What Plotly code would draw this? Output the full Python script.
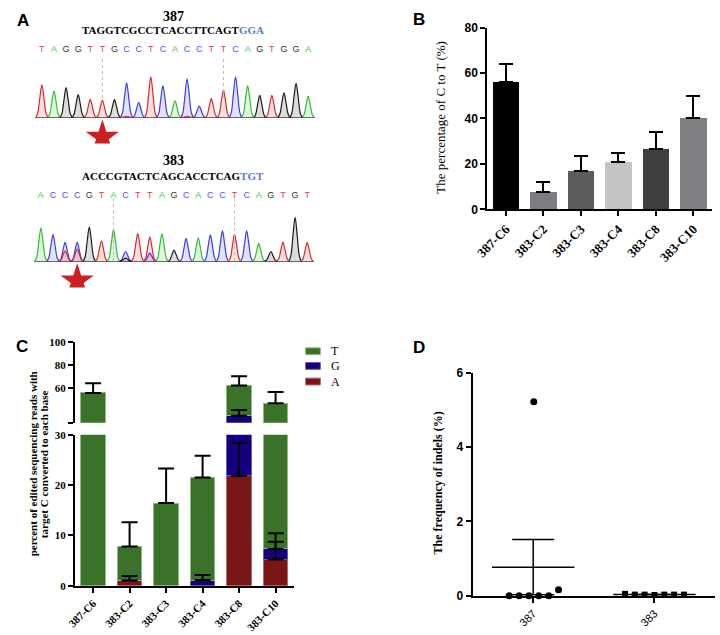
import numpy as np
import plotly.graph_objects as go

W, H = 720, 635
def fx(px): return px / W
def fy(py): return 1 - py / H

SERIF = "Liberation Serif"
SANS = "Liberation Sans"

# ---------------- Panel A data (Sanger chromatograms) ----------------
REF_387 = "TAGGTCGCCTCACCTTCAGT"
PAM_387 = "GGA"
CALLS_387 = "TAGGTTGCCTCACCTTCAGTGGA"
PEAKS_387 = [100, 82, 92, 70, 56, 53, 55, 106, 46, 125, 97, 51, 119, 35, 58, 85, 125, 98, 68, 68, 76, 105, 65]
MINOR_POS_387 = [7, 12]
MINOR_BASE_387 = ["T", "T"]
MINOR_H_387 = [4, 4]
MARK_387 = [5, 15]
STAR_387 = 5

REF_383 = "ACCCGTACTCAGCACCTCAG"
PAM_383 = "TGT"
CALLS_383 = "ACCCGTACTTAGCACCTCAGTGT"
PEAKS_383 = [102, 82, 58, 58, 105, 62, 98, 30, 85, 74, 84, 34, 70, 72, 81, 93, 83, 93, 54, 30, 59, 135, 57]
MINOR_POS_383 = [2, 3, 7, 9]
MINOR_BASE_383 = ["T", "T", "G", "C"]
MINOR_H_383 = [32, 38, 10, 25]
MARK_383 = [6, 16]
STAR_383 = 3

# ---------------- Panel B data ----------------
B_CATS = ["387-C6", "383-C2", "383-C3", "383-C4", "383-C8", "383-C10"]
B_VALS = [56.2, 7.5, 16.9, 20.8, 26.5, 40.4]
B_ERR = [7.6, 4.4, 6.6, 4.0, 7.6, 9.4]

# ---------------- Panel C data ----------------
C_CATS = B_CATS
C_A = [0, 1.0, 0, 0, 21.8, 5.2]
C_G = [0, 0, 0, 1.1, 14.2, 2.1]
C_T = [55.8, 6.8, 16.4, 20.4, 26.3, 39.5]
C_A_ERR = [0, 0.9, 0, 0, 6.6, 5.2]
C_G_ERR = [0, 0, 0, 1.0, 5.0, 1.4]
C_T_ERR = [8.4, 4.8, 6.9, 4.3, 8.1, 9.8]

# ---------------- Panel D data ----------------
D_CATS = ["387", "383"]
D_387 = [0, 0, 0, 5.22, 0, 0, 0.16]
D_383 = [0.05, 0.03, 0.03, 0.02, 0.03, 0.03, 0.03]

# ---------------- styles ----------------
BASE_LINE = {"A": "#2fbf2f", "C": "#3b3be8", "G": "#1a1a1a", "T": "#d62b2b"}
BASE_FILL = {"A": "rgba(47,191,47,0.15)", "C": "rgba(59,59,232,0.15)",
             "G": "rgba(26,26,26,0.15)", "T": "rgba(214,43,43,0.15)"}
BASE_TEXT = {"A": "#4cc04c", "C": "#5050ee", "G": "#333333", "T": "#e0404f"}
PEAK_OFFS = [-0.5, -0.34, -0.17, 0, 0.17, 0.34, 0.5]
PEAK_PROF = [0, 0.14, 0.6, 1, 0.6, 0.14, 0]
B_COLORS = ["#000000", "#7c7c81", "#5c5c5e", "#c4c4c4", "#3e3e3e", "#7f7f84"]
C_COLORS = {"A": "#7a1616", "G": "#160080", "T": "#3b7229"}
C_EDGE = {"A": "#b06a6a", "G": "#6a60b0", "T": "#8dbb7d"}
D_OFF_387 = [-0.198, -0.116, -0.035, 0.005, 0.046, 0.128, 0.209]
D_OFF_383 = [-0.243, -0.162, -0.081, 0.0, 0.081, 0.162, 0.243]

fig = go.Figure()

def chromatogram(xa, ya, calls, peaks, mpos, mbase, mh, letter_y, star_x, star_y):
    segs = {b: ([], []) for b in "ACGT"}
    allp = [(i, calls[i], peaks[i]) for i in range(len(calls))]
    allp += [(mpos[k], mbase[k], mh[k]) for k in range(len(mpos))]
    for pos, base, h in allp:
        xs, ys = segs[base]
        xs.extend([pos + o for o in PEAK_OFFS] + [None])
        ys.extend([h * p for p in PEAK_PROF] + [None])
    for b in "ACGT":
        xs, ys = segs[b]
        if not xs:
            continue
        fig.add_trace(go.Scatter(x=xs, y=ys, mode="lines", line=dict(color=BASE_LINE[b], width=1.2, shape="spline"),
                                 fill="toself", fillcolor=BASE_FILL[b], xaxis=xa, yaxis=ya,
                                 hoverinfo="skip", showlegend=False))
    fig.add_trace(go.Scatter(x=list(range(len(calls))), y=[letter_y] * len(calls), mode="text",
                             text=list(calls), textfont=dict(family=SANS, size=9,
                                                             color=[BASE_TEXT[c] for c in calls]),
                             xaxis=xa, yaxis=ya, showlegend=False, hoverinfo="skip"))
    fig.add_trace(go.Scatter(x=[star_x], y=[star_y], mode="markers",
                             marker=dict(symbol="star", size=25, color="#cc1f1f", line=dict(width=0)),
                             xaxis=xa, yaxis=ya, showlegend=False, hoverinfo="skip"))

chromatogram("x", "y", CALLS_387, PEAKS_387, MINOR_POS_387, MINOR_BASE_387, MINOR_H_387, 207, STAR_387, -60)
chromatogram("x2", "y2", CALLS_383, PEAKS_383, MINOR_POS_383, MINOR_BASE_383, MINOR_H_383, 200, STAR_383, -60)

shapes = []
for m in MARK_387:
    shapes.append(dict(type="line", xref="x", yref="y", x0=m, x1=m, y0=60, y1=189,
                       line=dict(color="#bbbbbb", width=1, dash="dot")))
for m in MARK_383:
    shapes.append(dict(type="line", xref="x2", yref="y2", x0=m, x1=m, y0=0, y1=192,
                       line=dict(color="#bbbbbb", width=1, dash="dot")))

# ---------------- Panel B ----------------
fig.add_trace(go.Bar(x=B_CATS, y=B_VALS, width=0.7, marker=dict(color=B_COLORS, line=dict(width=0)),
                     error_y=dict(type="data", array=B_ERR, arrayminus=[0] * len(B_ERR), symmetric=False,
                                  color="black", thickness=2, width=7),
                     xaxis="x3", yaxis="y3", showlegend=False))

# ---------------- Panel C ----------------
def nz(v):
    return [x if x != 0 else None for x in v]

stack = (("A", C_A, C_A_ERR), ("G", C_G, C_G_ERR), ("T", C_T, C_T_ERR))
for ya, xa in (("y4", "x4"), ("y5", "x5")):
    for b, vals, errs in stack:
        fig.add_trace(go.Bar(x=C_CATS, y=nz(vals), width=0.67, name=b,
                             marker=dict(color=C_COLORS[b], line=dict(color=C_EDGE[b], width=1)),
                             xaxis=xa, yaxis=ya, showlegend=False))
    cum = np.zeros(len(C_CATS))
    for b, vals, errs in stack:
        cum = cum + np.array(vals)
        tops = [float(t) if v != 0 else None for t, v in zip(cum, vals)]
        fig.add_trace(go.Scatter(x=C_CATS, y=tops, mode="markers", marker=dict(size=1, color="rgba(0,0,0,0)"),
                                 error_y=dict(type="data", array=nz(errs), arrayminus=[0] * 6, symmetric=False,
                                              color="black", thickness=2, width=8),
                                 xaxis=xa, yaxis=ya, showlegend=False, hoverinfo="skip"))

# ---------------- Panel D ----------------
for ci, (vals, offs, sym, sz) in enumerate(((D_387, D_OFF_387, "circle", 7), (D_383, D_OFF_383, "square", 6))):
    fig.add_trace(go.Scatter(x=[ci + o for o in offs], y=vals, mode="markers",
                             marker=dict(symbol=sym, size=sz, color="black"),
                             xaxis="x6", yaxis="y6", cliponaxis=False, showlegend=False))
    arr = np.array(vals)
    mean = float(arr.mean())
    sem = float(arr.std(ddof=1) / np.sqrt(len(arr)))
    fig.add_trace(go.Scatter(x=[ci - 0.34, ci + 0.34], y=[mean, mean], mode="lines",
                             line=dict(color="black", width=1.5), xaxis="x6", yaxis="y6",
                             cliponaxis=False, showlegend=False))
    fig.add_trace(go.Scatter(x=[ci], y=[mean], mode="markers", marker=dict(size=1, color="rgba(0,0,0,0)"),
                             error_y=dict(type="data", array=[sem], symmetric=True, color="black",
                                          thickness=1.5, width=21),
                             xaxis="x6", yaxis="y6", cliponaxis=False, showlegend=False))

# ---------------- axes ----------------
chrom_x = dict(showgrid=False, zeroline=False, showline=False, ticks="", showticklabels=False,
               range=[-0.6, 22.6])
chrom_y = dict(showgrid=False, zeroline=True, zerolinecolor="#666666", zerolinewidth=1, showline=False,
               ticks="", showticklabels=False, range=[-80, 231])
fig.update_layout(
    xaxis=dict(domain=[fx(22), fx(308)], anchor="y", **chrom_x),
    yaxis=dict(domain=[fy(139.7), fy(36)], anchor="x", **chrom_y),
    xaxis2=dict(domain=[fx(21), fx(307)], anchor="y2", **chrom_x),
    yaxis2=dict(domain=[fy(286.7), fy(183)], anchor="x2", **chrom_y),
)

axline = dict(showline=True, linecolor="black", linewidth=2, showgrid=False, zeroline=False,
              ticks="outside", tickwidth=2, tickcolor="black", ticklen=5)
fig.update_layout(
    xaxis3=dict(domain=[fx(483), fx(712)], anchor="y3", range=[-0.5, 5.5], tickangle=-45,
                tickfont=dict(family=SERIF, size=13, color="black", weight="bold"), **axline),
    yaxis3=dict(domain=[fy(207), fy(21)], anchor="x3", range=[0, 80], tickvals=[0, 20, 40, 60, 80],
                tickfont=dict(family=SANS, size=12, color="black", weight="bold"), **axline),
    xaxis4=dict(domain=[fx(63), fx(286)], anchor="y4", range=[-0.5, 5.5], tickangle=-45,
                tickfont=dict(family=SERIF, size=11, color="black", weight="bold"), **axline),
    yaxis4=dict(domain=[fy(591.7), fy(437.3)], anchor="x4", range=[0, 30], tickvals=[0, 10, 20, 30],
                tickfont=dict(family=SERIF, size=11, color="black", weight="bold"), **axline),
    xaxis5=dict(domain=[fx(63), fx(286)], anchor="y5", range=[-0.5, 5.5], visible=False, showgrid=False),
    yaxis5=dict(domain=[fy(425), fy(342.7)], anchor="x5", range=[30, 100], tickvals=[30, 60, 80, 100],
                ticktext=["", "60", "80", "100"],
                tickfont=dict(family=SERIF, size=11, color="black", weight="bold"), **axline),
    xaxis6=dict(domain=[fx(468), fx(715)], anchor="y6", range=[-0.5, 1.5], tickvals=[0, 1], ticktext=D_CATS,
                tickangle=-45, tickfont=dict(family=SANS, size=11, color="black"), **axline),
    yaxis6=dict(domain=[fy(602), fy(374)], anchor="x6", range=[0, 6], tickvals=[0, 2, 4, 6],
                tickfont=dict(family=SANS, size=12, color="black", weight="bold"), **axline),
)

# ---------------- legend for C ----------------
LEG_Y = [352, 367, 383]
for b, yy in zip(["T", "G", "A"], LEG_Y):
    shapes.append(dict(type="rect", xref="paper", yref="paper", x0=fx(298), x1=fx(313),
                       y0=fy(yy + 3.5), y1=fy(yy - 3.5), fillcolor=C_COLORS[b],
                       line=dict(color=C_EDGE[b], width=1)))

ann = []
def A(text, x, y, size, family, bold=False, color="black", angle=0, xanchor="center"):
    ann.append(dict(text=text, x=fx(x), y=fy(y), xref="paper", yref="paper", showarrow=False,
                    xanchor=xanchor, yanchor="middle", textangle=angle,
                    font=dict(family=family, size=size, color=color, weight="bold" if bold else "normal")))

A("A", 2, 14, 17, SANS, True, xanchor="left")
A("B", 405, 13, 17, SANS, True, xanchor="left")
A("C", 1, 347, 17, SANS, True, xanchor="left")
A("D", 405, 348, 17, SANS, True, xanchor="left")
A("387", 163, 10, 14, SERIF, True)
A(REF_387 + "<span style='color:#5b7cc4'>" + PAM_387 + "</span>", 163, 24, 11, SERIF, True)
A("383", 163, 157, 14, SERIF, True)
A(REF_383 + "<span style='color:#5b7cc4'>" + PAM_383 + "</span>", 163, 173, 11, SERIF, True)
A("The percentage of C to T (%)", 435, 113, 13, SERIF, False, angle=-90)
A("percent of edited sequencing reads with", 20, 467, 11, SERIF, True, angle=-90)
A("target C converted to each base", 31, 467, 11, SERIF, True, angle=-90)
A("The frequency of indels (%)", 433, 487, 12, SERIF, True, angle=-90)
for b, yy in zip(["T", "G", "A"], LEG_Y):
    A(b, 322, yy, 12, SERIF, False, xanchor="left")

fig.update_layout(width=W, height=H, margin=dict(l=0, r=0, t=0, b=0), paper_bgcolor="white",
                  plot_bgcolor="white", barmode="stack", showlegend=False, shapes=shapes, annotations=ann)

fig.write_html("out.html", config={"displayModeBar": False},
               post_script="document.body.style.margin='0';")
